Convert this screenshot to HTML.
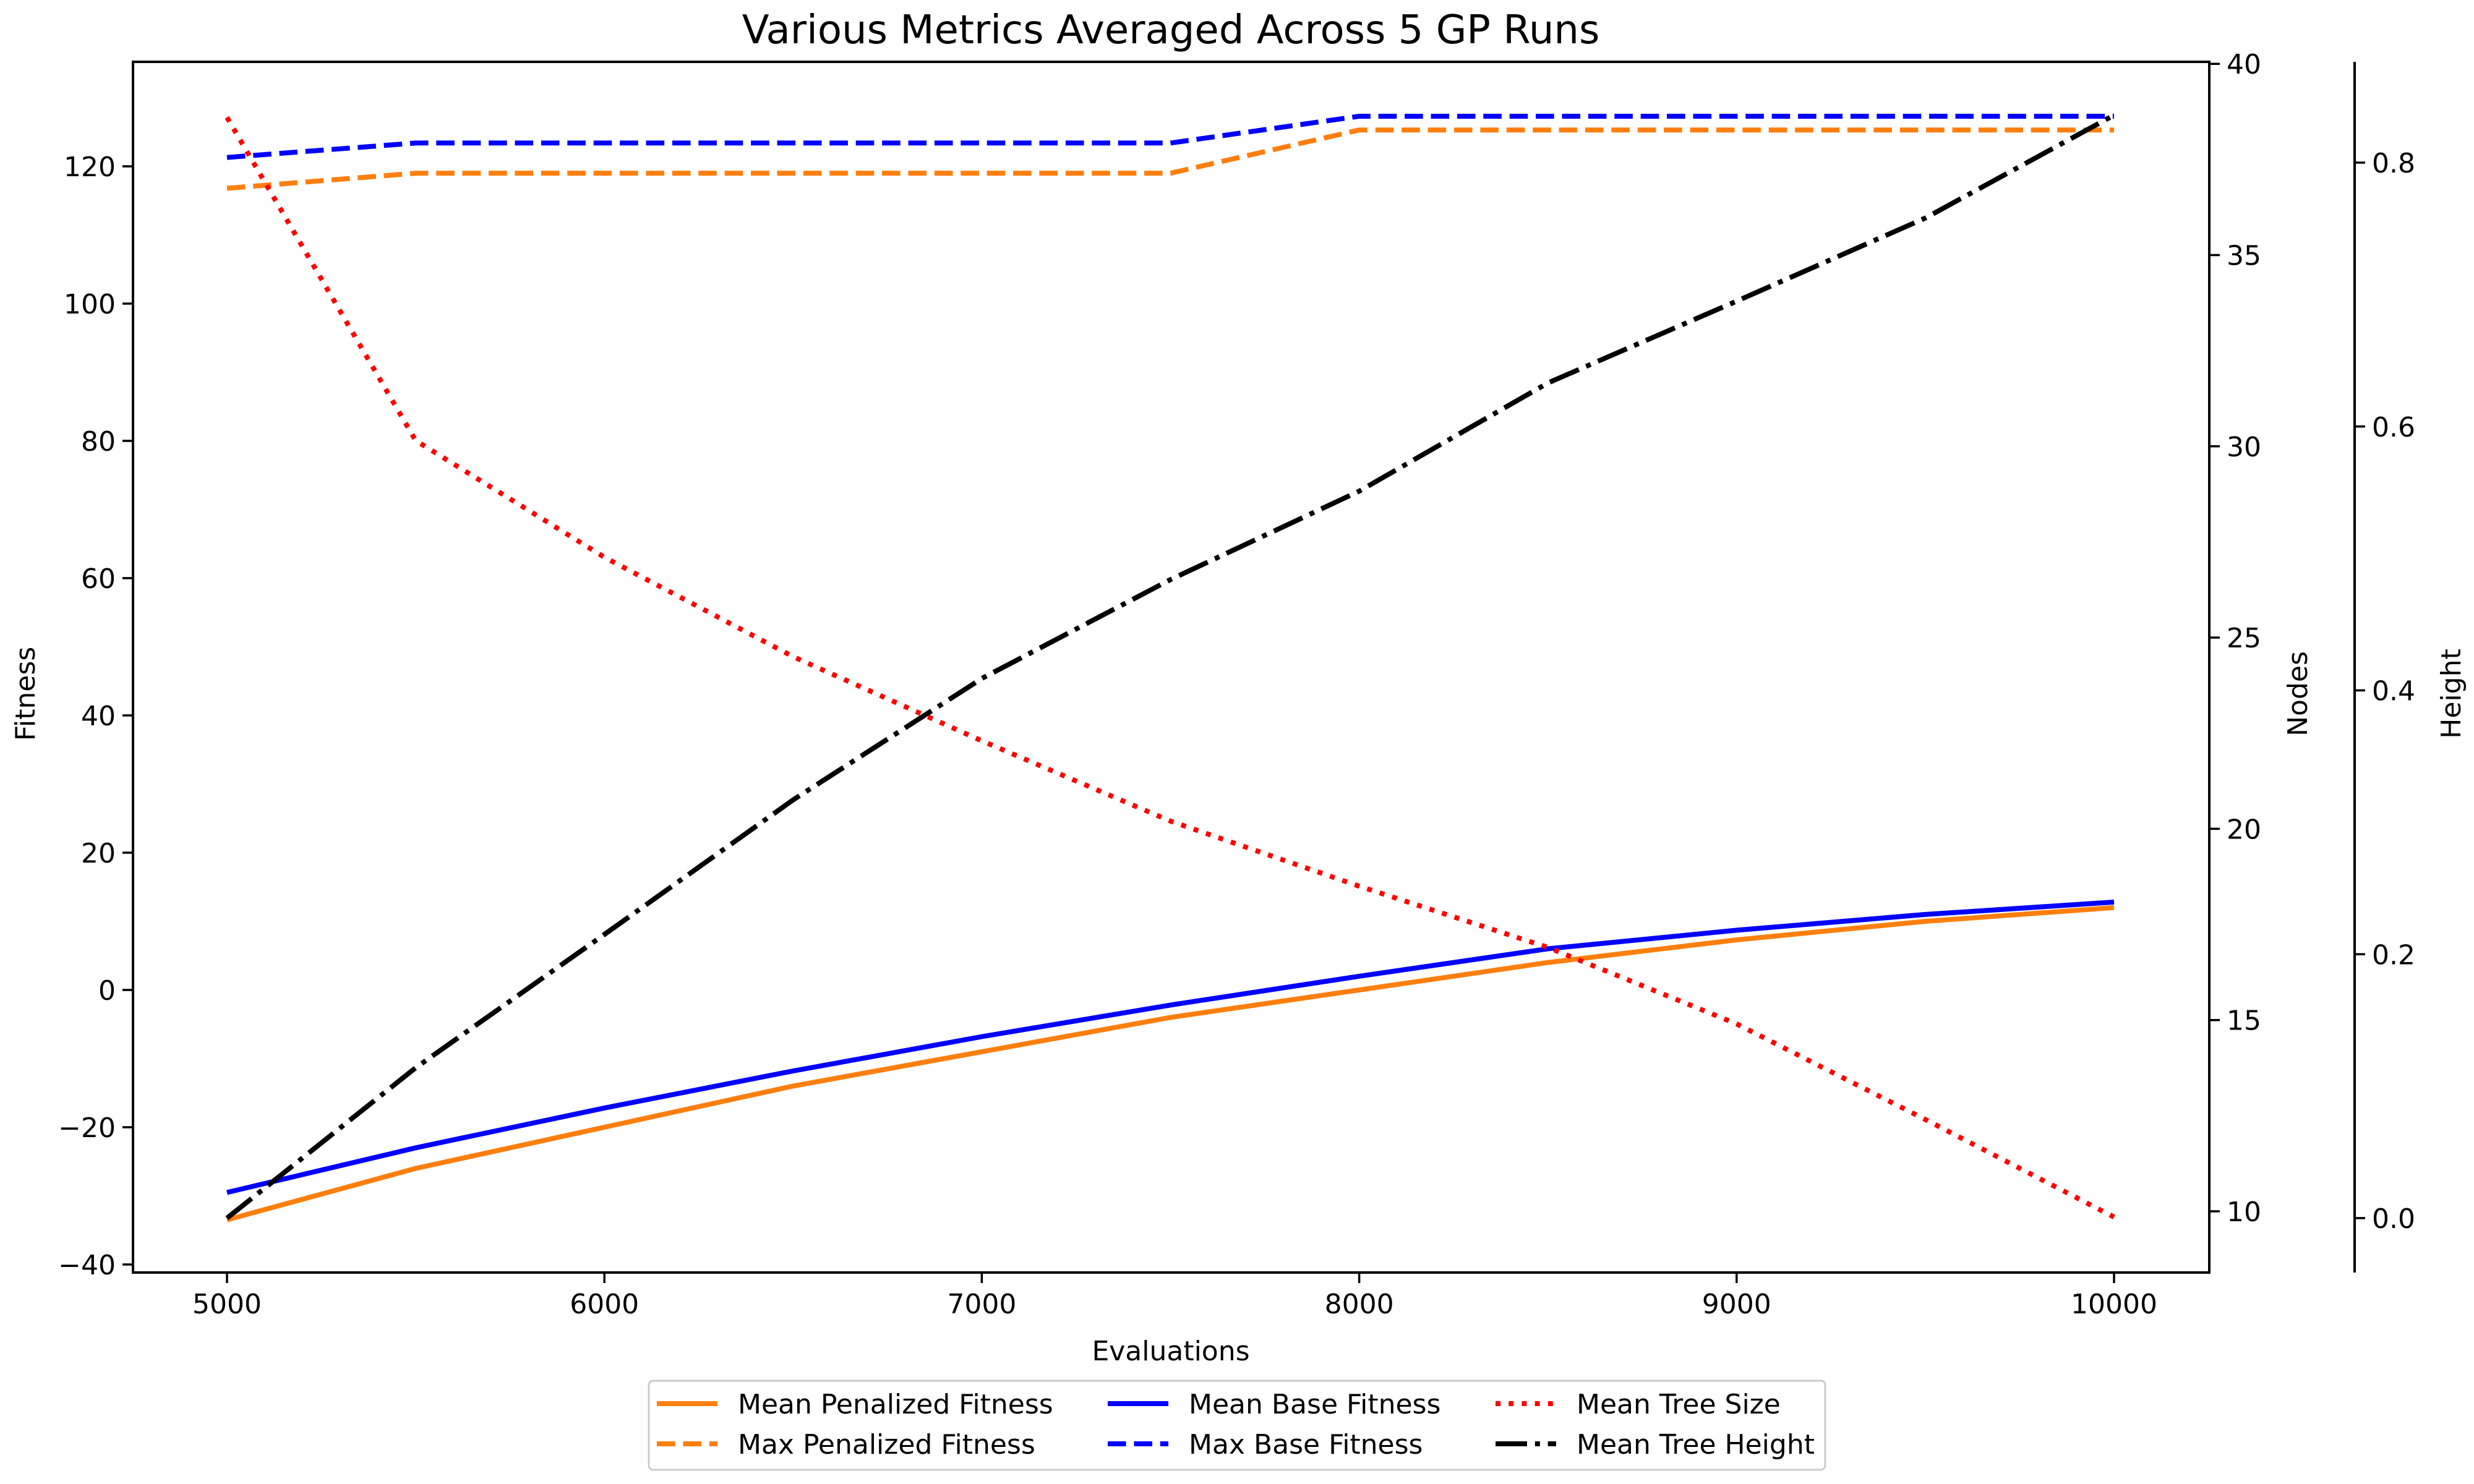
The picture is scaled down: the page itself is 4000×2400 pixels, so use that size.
<!DOCTYPE html>
<html><head><meta charset="utf-8"><style>
html,body{margin:0;padding:0;background:#fff;}
svg{display:block;font-family:"DejaVu Sans","Liberation Sans",sans-serif;}
</style></head><body>
<svg id="chart" width="4000" height="2400" viewBox="0 0 4000 2400" xmlns="http://www.w3.org/2000/svg">
<rect width="4000" height="2400" fill="#fff"/>
<g id="marks"></g>
<g id="axes"></g>
</svg>
<script>
const evals = [5000,5500,6000,6500,7000,7500,8000,8500,9000,9500,10000];
const meanPenalized = [-33.5,-26,-20,-14,-9,-4,0,4,7.3,10,12];
const maxPenalized = [116.8,119,119,119,119,119,125.3,125.3,125.3,125.3,125.3];
const meanBase = [-29.5,-23,-17.2,-11.8,-6.8,-2.2,2,6,8.7,11,12.8];
const maxBase = [121.3,123.4,123.4,123.4,123.4,123.4,127.3,127.3,127.3,127.3,127.3];
const meanTreeSize = [38.6,30.15,27.1,24.5,22.3,20.2,18.5,16.9,14.9,12.4,9.85];
const meanTreeHeight = [0.0,0.114,0.215,0.317,0.409,0.484,0.551,0.633,0.695,0.758,0.836];
const xTicks = [5000,6000,7000,8000,9000,10000];
const fitTicks = [-40,-20,0,20,40,60,80,100,120];
const nodeTicks = [10,15,20,25,30,35,40];
const heightTicks = [0.0,0.2,0.4,0.6,0.8];

const NS='http://www.w3.org/2000/svg';
const L=215,R=3572,T=100,B=2058;
const xS=v=>367+(v-5000)*(3418-367)/5000;
const yFit=v=>1601-v*222/20;
const yNode=v=>1959-(v-10)*309.3/5;
const yH=v=>1970-v*426.75/0.2;
const marks=document.getElementById('marks');
const axes=document.getElementById('axes');
function mk(tag,attrs,parent){const e=document.createElementNS(NS,tag);for(const k in attrs)e.setAttribute(k,attrs[k]);parent.appendChild(e);return e;}
const LW=8;
const dashed='29.6 12.8', dotted='8 13.2', dashdot='51 12.8 8 12.8';
function series(vals,ys,color,dash,name){
  const pts=vals.map((v,i)=>xS(evals[i]).toFixed(1)+','+ys(v).toFixed(1)).join(' ');
  const p=mk('polyline',{points:pts,fill:'none',stroke:color,'stroke-width':LW,'stroke-linejoin':'round'},marks);
  if(dash)p.setAttribute('stroke-dasharray',dash);
  
  
}
series(meanPenalized,yFit,'#ff7f0e',null,'mean-penalized-fitness-line');
series(maxPenalized,yFit,'#ff7f0e',dashed,'max-penalized-fitness-line');
series(meanBase,yFit,'#0000ff',null,'mean-base-fitness-line');
series(maxBase,yFit,'#0000ff',dashed,'max-base-fitness-line');
series(meanTreeSize,yNode,'#ff0000',dotted,'mean-tree-size-line');
series(meanTreeHeight,yH,'#000000',dashdot,'mean-tree-height-line');

const fr=mk('rect',{x:L,y:T,width:R-L,height:B-T,fill:'none',stroke:'#000','stroke-width':4},axes);


function txt(x,y,s,size,anchor,parent,name,rot){
  const t=mk('text',{x:x,y:y,'font-size':size,'text-anchor':anchor,fill:'#000'},parent);
  if(rot)t.setAttribute('transform','rotate(-90 '+x+' '+y+')');
  t.textContent=s;
  
  
  return t;
}
const FS=44;
const TL=17, TW=3.5;
xTicks.forEach(v=>{const x=xS(v);mk('line',{x1:x,y1:B,x2:x,y2:B+TL,stroke:'#000','stroke-width':TW},axes);
  txt(x,B+66,String(v),FS,'middle',axes,'x-tick-label');});
fitTicks.forEach(v=>{const y=yFit(v);mk('line',{x1:L,y1:y,x2:L-TL,y2:y,stroke:'#000','stroke-width':TW},axes);
  txt(L-28,y+16,v<0?'\u2212'+Math.abs(v):String(v),FS,'end',axes,'fitness-tick-label');});
nodeTicks.forEach(v=>{const y=yNode(v);mk('line',{x1:R,y1:y,x2:R+TL,y2:y,stroke:'#000','stroke-width':TW},axes);
  txt(R+28,y+16,String(v),FS,'start',axes,'nodes-tick-label');});
const HX=3807;
mk('line',{x1:HX,y1:T,x2:HX,y2:B,stroke:'#000','stroke-width':4},axes);
heightTicks.forEach(v=>{const y=yH(v);mk('line',{x1:HX,y1:y,x2:HX+TL,y2:y,stroke:'#000','stroke-width':TW},axes);
  txt(HX+28,y+16,v.toFixed(1),FS,'start',axes,'height-tick-label');});
txt(1893,2200,'Evaluations',FS,'middle',axes,'x-axis-title');
txt(56,1122,'Fitness',FS,'middle',axes,'fitness-axis-title',true);
txt(3730,1122,'Nodes',FS,'middle',axes,'nodes-axis-title',true);
txt(3978,1122,'Height',FS,'middle',axes,'height-axis-title',true);
txt(1893,70,'Various Metrics Averaged Across 5 GP Runs',64,'middle',axes,'chart-title');

const lg=mk('g',{},axes);


mk('rect',{x:1049,y:2233,width:1902,height:144,rx:7,fill:'#fff',stroke:'#ccc','stroke-width':3},lg);
const legNames=['Mean Penalized Fitness','Max Penalized Fitness','Mean Base Fitness','Max Base Fitness','Mean Tree Size','Mean Tree Height'];
const legColors=['#ff7f0e','#ff7f0e','#0000ff','#0000ff','#ff0000','#000000'];
const legDash=[null,dashed,null,dashed,dotted,dashdot];
const colX=[1062,1791,2418];
legNames.forEach((n,i)=>{
  const c=Math.floor(i/2), r=i%2;
  const x=colX[c], y=r?2335:2270;
  const g=mk('g',{},lg);
  
  
  const l=mk('line',{x1:x,y1:y,x2:x+98,y2:y,stroke:legColors[i],'stroke-width':LW},g);
  if(legDash[i])l.setAttribute('stroke-dasharray',legDash[i]);
  txt(x+131,y+16,n,FS,'start',g,'legend-label');
});
</script>
</body></html>
